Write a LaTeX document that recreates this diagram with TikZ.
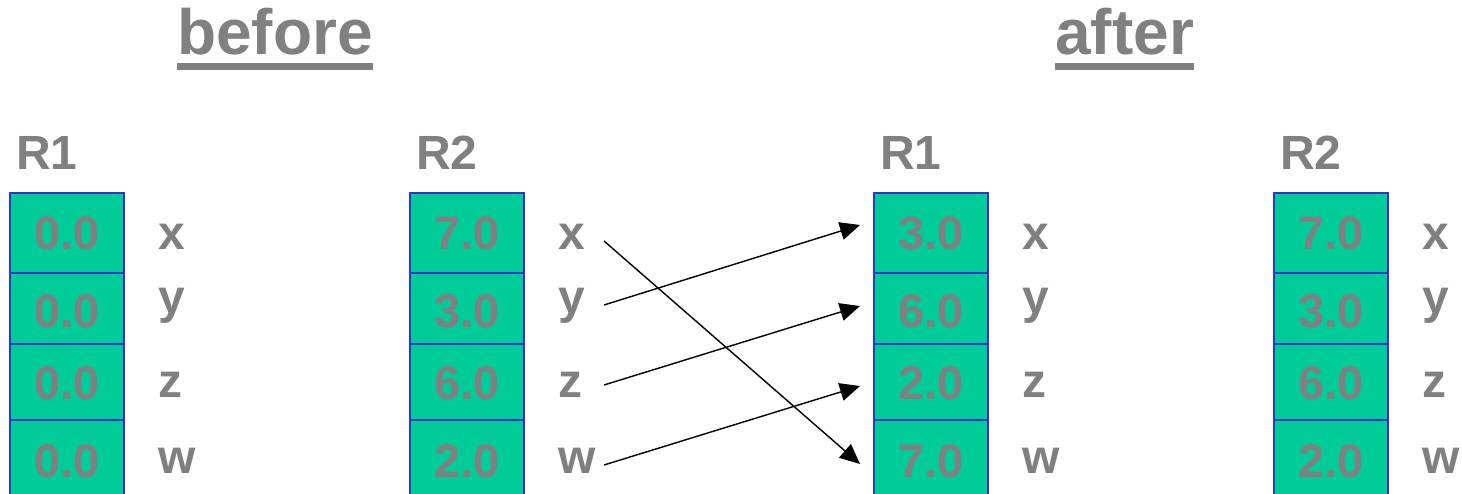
\documentclass[tikz,border=0pt]{standalone}
\usepackage{fontspec}
\setmainfont{Liberation Sans}
\usetikzlibrary{arrows.meta,calc}
\definecolor{txtgray}{HTML}{808080}
\definecolor{cellfill}{HTML}{00CC99}
\definecolor{cellline}{HTML}{3333CC}
\tikzset{
  cell/.style={draw=cellline, fill=cellfill, line width=2.5pt, minimum width=114pt, inner sep=0pt},
  val/.style={anchor=base, inner sep=0pt, text=txtgray, font=\fontsize{47}{47}\selectfont\bfseries},
  lbl/.style={anchor=base west, inner sep=0pt, text=txtgray, font=\fontsize{48}{48}\selectfont\bfseries},
  ttl/.style={anchor=base west, inner sep=0pt, text=txtgray, font=\fontsize{64}{64}\selectfont\bfseries},
  uline/.style={line width=7pt, draw=txtgray},
  conn/.style={draw=black, line width=1.4pt, -{Triangle[length=20pt,width=18pt]}}
}
\begin{document}
\begin{tikzpicture}[x=1pt,y=-1pt]
\useasboundingbox (0,0) rectangle (1462,494);
\clip (0,0) rectangle (1462,494);
% titles
\node[ttl] (before) at (177,55) {before};
\node[ttl] (after) at (1055,55) {after};
\draw[uline] ([yshift=-11.5pt]before.base west) -- ([yshift=-11.5pt]before.base east);
\draw[uline] ([yshift=-11.5pt]after.base west) -- ([yshift=-11.5pt]after.base east);
% register blocks
\foreach \id/\bx/\name/\va/\vb/\vc/\vd in {a/10/R1/0.0/0.0/0.0/0.0, b/410/R2/7.0/3.0/6.0/2.0, c/874/R1/3.0/6.0/2.0/7.0, d/1274/R2/7.0/3.0/6.0/2.0}{
  \node[lbl] (\id title) at (\bx+6,170) {\name};
  \node[cell, minimum height=80pt] (\id1) at (\bx+57,233) {};
  \node[cell, minimum height=71pt] (\id2) at (\bx+57,308.5) {};
  \node[cell, minimum height=76pt] (\id3) at (\bx+57,382) {};
  \node[cell, minimum height=100pt] (\id4) at (\bx+57,470) {};
  \node[val] (\id v1) at (\bx+57,250) {\va};
  \node[val] (\id v2) at (\bx+57,328) {\vb};
  \node[val] (\id v3) at (\bx+57,399) {\vc};
  \node[val] (\id v4) at (\bx+57,477) {\vd};
  \node[lbl] (\id x) at (\bx+148,250) {x};
  \node[lbl] (\id y) at (\bx+148,314) {y};
  \node[lbl] (\id z) at (\bx+148,397) {z};
  \node[lbl] (\id w) at (\bx+148,473) {w};
}
% connectors
\coordinate (sx) at (604,241);
\coordinate (sy) at (604,305);
\coordinate (sz) at (604,385);
\coordinate (sw) at (604,465);
\coordinate (ex) at (860,464);
\coordinate (ey) at (860,225);
\coordinate (ez) at (860,306);
\coordinate (ew) at (860,386);
\draw[conn] (sx) -- (ex);
\draw[conn] (sy) -- (ey);
\draw[conn] (sz) -- (ez);
\draw[conn] (sw) -- (ew);
\end{tikzpicture}
\end{document}
